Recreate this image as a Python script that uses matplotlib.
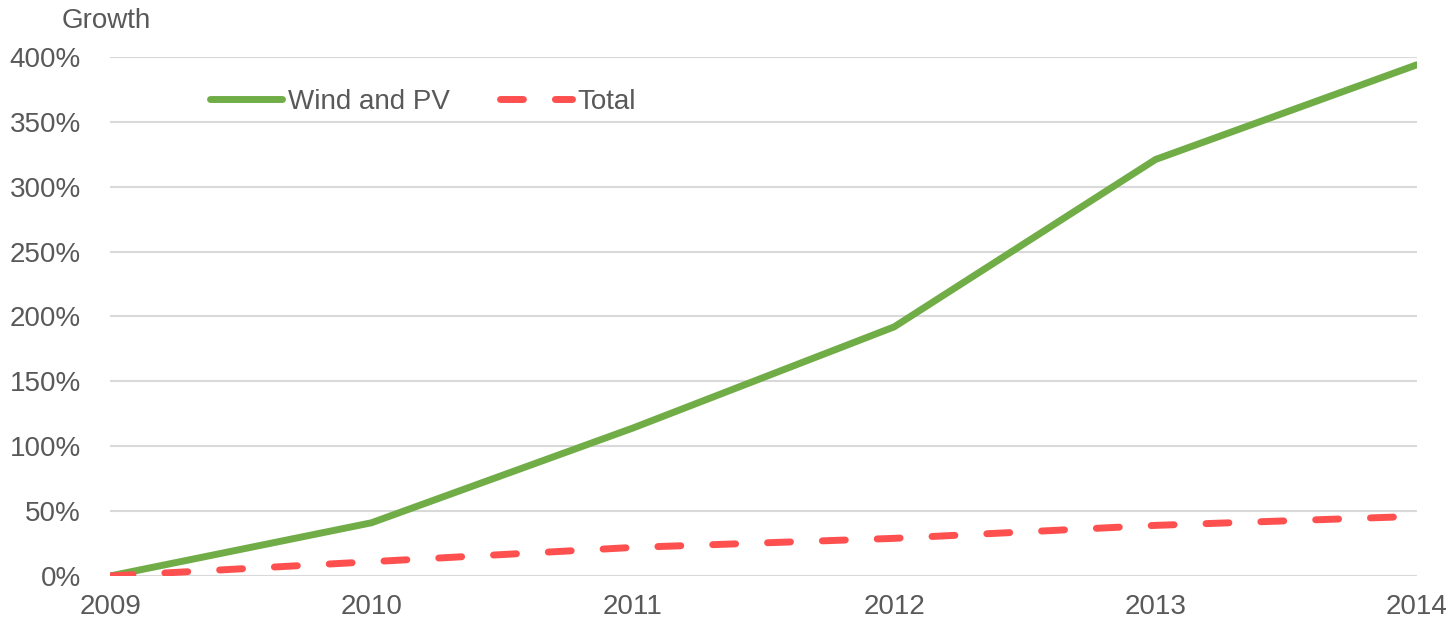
import matplotlib.pyplot as plt
from matplotlib.ticker import FuncFormatter

years = [2009, 2010, 2011, 2012, 2013, 2014]
wind_pv = [0, 41, 114, 192, 321, 394]
total = [0, 11, 22, 29, 39, 46]

plt.rcParams['font.family'] = ['Liberation Sans', 'DejaVu Sans']

text_color = '#595959'

fig = plt.figure(figsize=(14.54, 6.31), dpi=100)
ax = fig.add_axes([0.0757, 0.0872, 0.8988, 0.8225])

ax.plot(years, wind_pv, color='#70AD47', lw=5, solid_capstyle='round', label='Wind and PV', zorder=3)
ax.plot(years, total, color='#FF5050', lw=5, dash_capstyle='round', dashes=(3.3, 4.6),
        label='Total', zorder=3)

ax.set_xlim(2009, 2014)
ax.set_ylim(0, 400)
ax.set_yticks(range(0, 401, 50))
ax.set_xticks(years)
ax.yaxis.set_major_formatter(FuncFormatter(lambda v, p: f'{int(v)}%'))
ax.grid(axis='y', color='#D9D9D9', lw=1.5)
ax.set_axisbelow(True)
for s in ax.spines.values():
    s.set_visible(False)
ax.tick_params(length=0, labelsize=20, colors=text_color)
ax.tick_params(axis='x', pad=13)
ax.tick_params(axis='y', pad=21)

ax.text(-0.037, 1.045, 'Growth', transform=ax.transAxes, fontsize=20, color=text_color,
        ha='left', va='bottom')

leg = ax.legend(loc='center left', bbox_to_anchor=(0.0765, 0.914), ncol=2, frameon=False,
                fontsize=20, handlelength=2.6, handletextpad=0.2, columnspacing=1.8,
                borderaxespad=0, borderpad=0)
for t in leg.get_texts():
    t.set_color(text_color)

fig.savefig('out.png', dpi=100)
